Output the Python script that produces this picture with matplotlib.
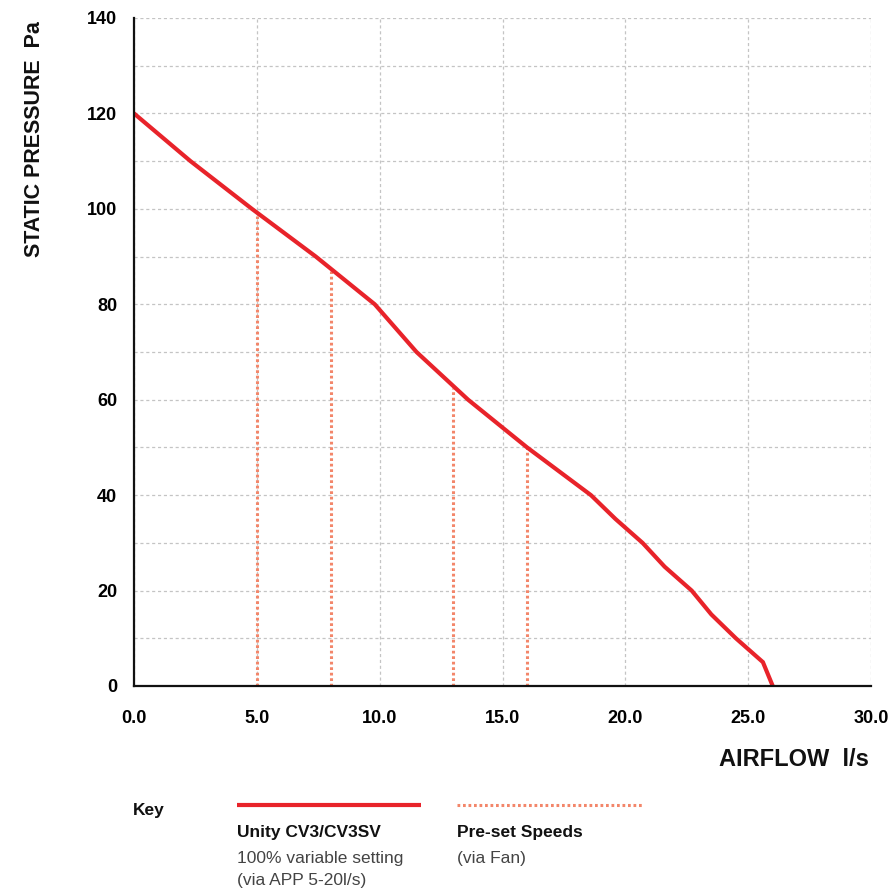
import matplotlib
matplotlib.use('Agg')
import matplotlib.pyplot as plt
from matplotlib.lines import Line2D
from matplotlib import font_manager

# ---- data ----
airflow = [0.0, 2.3, 4.8, 7.4, 9.8, 11.5, 13.6, 16.0, 18.6, 19.6, 20.7, 21.6, 22.7, 23.5, 24.5, 25.6, 26.0]
pressure = [120, 110, 100, 90, 80, 70, 60, 50, 40, 35, 30, 25, 20, 15, 10, 5, 0]
preset_speeds = [5.0, 8.0, 13.0, 16.0]
preset_tops = [98.5, 87.0, 62.5, 50.0]
x_ticks = [0, 5, 10, 15, 20, 25, 30]
y_ticks = [0, 20, 40, 60, 80, 100, 120, 140]

RED = '#E8232A'
SALMON = '#F3866A'

names = {f.name for f in font_manager.fontManager.ttflist}
MAIN = 'Liberation Sans' if 'Liberation Sans' in names else 'DejaVu Sans'
NARROW = 'Liberation Sans Narrow' if 'Liberation Sans Narrow' in names else MAIN
plt.rcParams['font.family'] = [MAIN, 'DejaVu Sans']

fig = plt.figure(figsize=(8.9, 8.91), dpi=100)
W, H = 890, 891
ax = fig.add_axes([134 / W, 1 - 686 / H, (871 - 134) / W, (686 - 18) / H])

ax.plot(airflow, pressure, color=RED, lw=3.0, solid_joinstyle='miter', zorder=4)
for xs, top in zip(preset_speeds, preset_tops):
    ax.plot([xs, xs], [0, top], color=SALMON, lw=2.2, linestyle=(0, (0.9, 0.9)), zorder=3)

ax.set_xlim(0, 30)
ax.set_ylim(0, 140)
ax.set_xticks(x_ticks)
ax.set_xticklabels([f'{v:.1f}' for v in x_ticks])
ax.set_yticks(y_ticks)
ax.set_yticklabels([str(v) for v in y_ticks])
ax.set_yticks(range(10, 140, 20), minor=True)
ax.tick_params(axis='both', which='both', length=0)
ax.tick_params(axis='x', pad=17, labelsize=13)
ax.tick_params(axis='y', pad=12, labelsize=13)
for lab in ax.get_xticklabels() + ax.get_yticklabels():
    lab.set_fontweight('bold')
ax.grid(True, which='both', color='#C4C4C4', lw=0.9, linestyle=(0, (2.5, 2.2)))
ax.set_axisbelow(True)
for s in ['top', 'right']:
    ax.spines[s].set_visible(False)
for s in ['left', 'bottom']:
    ax.spines[s].set_linewidth(1.6)
    ax.spines[s].set_color('#111111')
    ax.spines[s].set_zorder(5)

# axis titles
fig.text(35 / W, 1 - 139 / H, 'STATIC PRESSURE  Pa', rotation=90, ha='center', va='center',
         fontsize=15.5, fontweight='bold', color='#111111')
fig.text(869 / W, 1 - 760 / H, 'AIRFLOW  l/s', ha='right', va='center',
         fontsize=17, fontweight='bold', color='#111111')

# key
fig.text(133 / W, 1 - 810 / H, 'Key', ha='left', va='center', fontsize=12.5, fontweight='bold', color='#111111')
fig.add_artist(Line2D([237 / W, 421 / W], [1 - 805 / H, 1 - 805 / H], color=RED, lw=3.0,
                      solid_capstyle='butt', transform=fig.transFigure))
fig.add_artist(Line2D([457 / W, 643 / W], [1 - 805 / H, 1 - 805 / H], color=SALMON, lw=2.2,
                      linestyle=(0, (0.9, 0.9)), transform=fig.transFigure))
fig.text(237 / W, 1 - 833 / H, 'Unity CV3/CV3SV', ha='left', va='center', fontsize=12.5,
         fontweight='bold', color='#111111')
fig.text(237 / W, 1 - 858 / H, '100% variable setting', ha='left', va='center', fontsize=12.5,
         color='#444444', family=[NARROW, 'DejaVu Sans'])
fig.text(237 / W, 1 - 881 / H, '(via APP 5-20l/s)', ha='left', va='center', fontsize=12.5,
         color='#444444', family=[NARROW, 'DejaVu Sans'])
fig.text(457 / W, 1 - 833 / H, 'Pre-set Speeds', ha='left', va='center', fontsize=12.5,
         fontweight='bold', color='#111111')
fig.text(457 / W, 1 - 858 / H, '(via Fan)', ha='left', va='center', fontsize=12.5,
         color='#444444', family=[NARROW, 'DejaVu Sans'])

fig.savefig('out.png', dpi=100, facecolor='white')
